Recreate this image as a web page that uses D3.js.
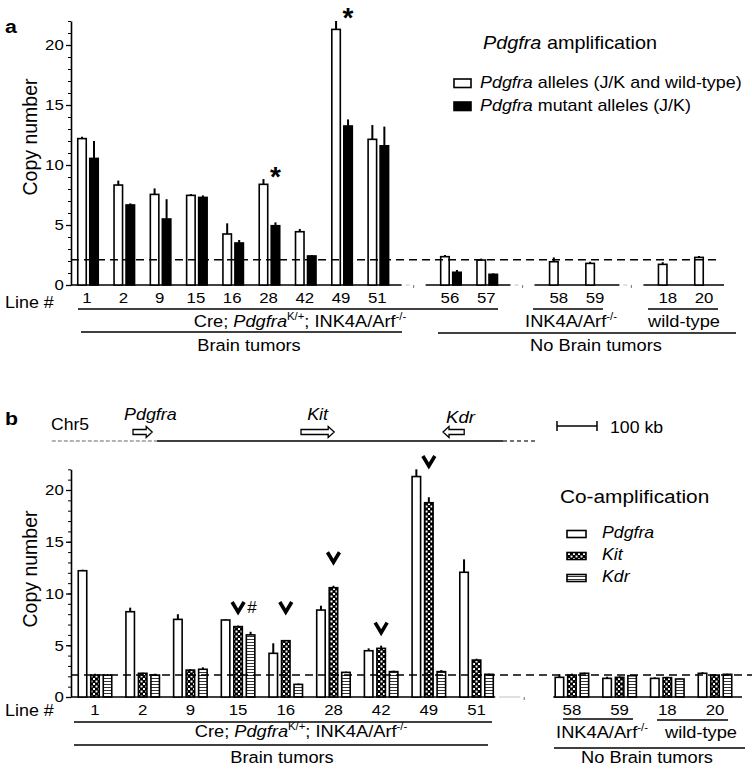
<!DOCTYPE html>
<html><head><meta charset="utf-8">
<script src="https://cdn.jsdelivr.net/npm/d3@7"></script>
<style>
body{margin:0;background:#fff}
svg{display:block}
text{font-family:"Liberation Sans",Arial,Helvetica,sans-serif;fill:#000}
</style>
</head><body>
<svg id="c" width="752" height="770"></svg>
<script>
// ---------------- DATA ----------------
// Panel a
const slotsA = ["1","2","9","15","16","28","42","49","51","_g1","56","57","_g2","58","59","_g3","18","20"];
const linesA = ["1","2","9","15","16","28","42","49","51","56","57","58","59","18","20"];
const allelesAll    = [12.2, 8.33, 7.55, 7.47, 4.25, 8.39, 4.44, 21.3, 12.14, 2.36, 2.08, 1.94, 1.8, 1.72, 2.3];
const allelesAllErr = [12.35, 8.7, 8.05, 7.58, 5.14, 8.83, 4.67, 22.0, 13.33, 2.5, 2.2, 2.3, 1.94, 1.9, 2.42];
const allelesMut    = [10.55, 6.67, 5.5, 7.3, 3.5, 4.94, 2.42, 13.25, 11.6, 1.06, 0.89, null, null, null, null];
const allelesMutErr = [12.0, 6.8, 7.15, 7.47, 3.75, 5.22, 2.5, 13.8, 13.2, 1.25, 0.97, null, null, null, null];
const asterisks = [{line:"28", value:9.6}, {line:"49", value:22.8}];
const refLineA = 2.1;

// Panel b
const slotsB = ["1","2","9","15","16","28","42","49","51","_g","58","59","18","20"];
const linesB = ["1","2","9","15","16","28","42","49","51","58","59","18","20"];
const coPdgfra    = [12.2, 8.24, 7.5, 7.44, 4.22, 8.4, 4.47, 21.3, 12.05, 1.9, 1.8, 1.8, 2.29];
const coPdgfraErr = [12.3, 8.63, 8.0, 7.5, 5.19, 8.82, 4.7, 22.0, 13.3, 2.19, 1.96, 1.9, 2.4];
const coKit       = [2.12, 2.29, 2.6, 6.8, 5.44, 10.56, 4.7, 18.77, 3.57, 2.12, 1.9, 1.87, 2.12];
const coKitErr    = [2.25, 2.35, 2.7, 6.9, 5.5, 10.75, 4.96, 19.3, 3.7, 2.25, 2.0, 1.95, 2.2];
const coKdr       = [2.12, 2.12, 2.68, 6.0, 1.22, 2.38, 2.45, 2.45, 2.19, 2.29, 2.06, 1.74, 2.19];
const coKdrErr    = [2.2, 2.25, 2.87, 6.3, 1.3, 2.45, 2.55, 2.6, 2.25, 2.35, 2.15, 1.8, 2.25];
const chevrons = [{line:"15", value:8.7}, {line:"16", value:8.7}, {line:"28", value:13.5}, {line:"42", value:6.7}, {line:"49", value:22.8}];
const hashes = [{line:"15", value:8.7}];
const refLineB = 2.12;

// Chromosome map (kb, relative)
const genes = [
  {name:"Pdgfra", start:0, end:48, dir:1},
  {name:"Kit", start:420, end:503, dir:1},
  {name:"Kdr", start:775, end:828, dir:-1}
];
const chrSolid = [60, 925];
const chrDashL = [-203, 60];
const chrDashR = [925, 1010];
const scaleBarKb = [1060, 1160];

const yTicks = [0, 5, 10, 15, 20];

// ---------------- DRAWING ----------------
const svg = d3.select("#c");
const SX = 1.12;

function rich(g, x, y, parts, o = {}) {
  const size = o.size || 16;
  const t = g.append("text")
    .attr("transform", `translate(${x},${y}) scale(${o.sx ?? SX},1)`)
    .attr("text-anchor", o.anchor || "start")
    .style("font-size", size + "px")
    .style("font-weight", o.weight || "normal");
  if (typeof parts === "string") parts = [{t: parts}];
  let cur = 0;
  parts.forEach(p => {
    const ts = t.append("tspan").text(p.t);
    if (p.i) ts.style("font-style", "italic");
    if (p.sup) {
      const k = -size * 0.42;
      ts.style("font-size", (size * 0.62) + "px");
      if (k - cur) ts.attr("dy", k - cur);
      cur = k;
    } else if (cur) {
      ts.attr("dy", -cur); cur = 0;
    }
  });
  return t;
}

const defs = svg.append("defs");
const pk = defs.append("pattern").attr("id", "kitPat").attr("patternUnits", "userSpaceOnUse")
  .attr("width", 5).attr("height", 5);
pk.append("rect").attr("width", 5).attr("height", 5).attr("fill", "#000");
pk.append("rect").attr("x", 0.5).attr("y", 0.5).attr("width", 2).attr("height", 2).attr("fill", "#fff");
pk.append("rect").attr("x", 3).attr("y", 3).attr("width", 2).attr("height", 2).attr("fill", "#fff");
const pd = defs.append("pattern").attr("id", "kdrPat").attr("patternUnits", "userSpaceOnUse")
  .attr("width", 4).attr("height", 3);
pd.append("rect").attr("width", 4).attr("height", 3).attr("fill", "#fff");
pd.append("rect").attr("y", 0).attr("width", 4).attr("height", 1).attr("fill", "#333");

const AX = 71;

function yAxis(g, y) {
  const minor = g.append("g").attr("transform", `translate(${AX},0)`)
    .call(d3.axisLeft(y).tickValues(d3.range(0, 23)).tickSize(3).tickFormat("").tickSizeOuter(0));
  minor.select(".domain").attr("stroke-width", 1.6);
  minor.selectAll(".tick line").attr("stroke-width", 1);
  const major = g.append("g").attr("transform", `translate(${AX},0)`)
    .call(d3.axisLeft(y).tickValues(yTicks).tickSize(5).tickPadding(1.5).tickSizeOuter(0));
  major.select(".domain").remove();
  major.selectAll(".tick line").attr("stroke-width", 1.3);
  major.selectAll(".tick text")
    .style("font-size", "15px")
    .style("font-family", '"Liberation Sans",Arial,sans-serif')
    .attr("transform", `scale(${SX},1)`);
}

function baseline(g, y0, x1, x2, gapXs, hw) {
  let start = x1;
  const segs = [];
  gapXs.forEach(c => { segs.push([start, c - hw]); start = c + hw; });
  segs.push([start, x2]);
  segs.forEach(s => g.append("line").attr("x1", s[0]).attr("x2", s[1]).attr("y1", y0).attr("y2", y0)
    .attr("stroke", "#000").attr("stroke-width", 1.6));
  gapXs.forEach(c => {
    g.append("line").attr("x1", c - hw + 4).attr("x2", c - 4).attr("y1", y0).attr("y2", y0)
      .attr("stroke", "#ccc").attr("stroke-width", 1.2);
    g.append("line").attr("x1", c).attr("x2", c).attr("y1", y0).attr("y2", y0 + 3)
      .attr("stroke", "#888").attr("stroke-width", 1.2);
  });
}

function copyLabel(g, cy) {
  g.append("text").attr("transform", `translate(37,${cy}) rotate(-90)`)
    .attr("text-anchor", "middle").style("font-size", "19.5px").text("Copy number");
}

function bars(g, x, y, lines, vals, errs, off, w, fill) {
  const d = lines.map((l, i) => ({l, v: vals[i], e: errs[i]})).filter(o => o.v != null);
  g.selectAll(null).data(d).join("rect")
    .attr("x", o => x(o.l) + off - w / 2).attr("width", w)
    .attr("y", o => y(o.v)).attr("height", o => y(0) - y(o.v))
    .attr("fill", fill).attr("stroke", "#000").attr("stroke-width", 1.6);
  g.selectAll(null).data(d.filter(o => o.e != null && o.e > o.v)).join("line")
    .attr("x1", o => x(o.l) + off).attr("x2", o => x(o.l) + off)
    .attr("y1", o => y(o.v)).attr("y2", o => y(o.e))
    .attr("stroke", "#000").attr("stroke-width", 2);
}

// ===== Panel a =====
const gA = svg.append("g");
const xA = d3.scalePoint().domain(slotsA).range([87, 704]);
const yA = d3.scaleLinear().domain([0, 22]).range([285, 21]);

rich(gA, 5, 33, "a", {size: 19, weight: "bold"});
yAxis(gA, yA);
copyLabel(gA, 137);
baseline(gA, yA(0), AX, 724, ["_g1", "_g2", "_g3"].map(s => xA(s)), 12);

bars(gA, xA, yA, linesA, allelesAll, allelesAllErr, -5, 8.5, "#fff");
bars(gA, xA, yA, linesA, allelesMut, allelesMutErr, 7, 8.5, "#000");

gA.append("line").attr("x1", AX).attr("x2", 720).attr("y1", yA(refLineA)).attr("y2", yA(refLineA))
  .attr("stroke", "#000").attr("stroke-width", 1.5).attr("stroke-dasharray", "8,5");

asterisks.forEach(a => {
  rich(gA, xA(a.line) + 7, yA(a.value) + 16, "*", {size: 28, weight: "bold", anchor: "middle", sx: 1});
});

// line labels
rich(gA, 5, 308, "Line #", {size: 16});
linesA.forEach(l => rich(gA, xA(l), 303, l, {size: 15, anchor: "middle"}));

function hline(g, x1, x2, y) {
  g.append("line").attr("x1", x1).attr("x2", x2).attr("y1", y).attr("y2", y).attr("stroke", "#000").attr("stroke-width", 1.5);
}
const creParts = [{t: "Cre; "}, {t: "Pdgfra", i: true}, {t: "K/+", sup: true}, {t: "; INK4A/Arf"}, {t: "-/-", sup: true}];
const inkParts = [{t: "INK4A/Arf"}, {t: "-/-", sup: true}];

hline(gA, 78, 498, 309);
rich(gA, 300, 327, creParts, {size: 16.3, anchor: "middle"});
hline(gA, 81, 402, 332);
rich(gA, 249, 351, "Brain tumors", {size: 16.3, anchor: "middle"});
hline(gA, 533, 603, 309);
rich(gA, 571, 327, inkParts, {size: 16.3, anchor: "middle"});
hline(gA, 648, 718, 309);
rich(gA, 684, 327, "wild-type", {size: 16.3, anchor: "middle"});
hline(gA, 438, 736, 333);
rich(gA, 596, 351, "No Brain tumors", {size: 16.3, anchor: "middle"});

// legend a
rich(gA, 483, 49, [{t: "Pdgfra", i: true}, {t: " amplification"}], {size: 17.7});
gA.append("rect").attr("x", 454).attr("y", 79).attr("width", 17).attr("height", 8.5)
  .attr("fill", "#fff").attr("stroke", "#000").attr("stroke-width", 1.6);
gA.append("rect").attr("x", 454).attr("y", 102).attr("width", 17).attr("height", 8.5)
  .attr("fill", "#000").attr("stroke", "#000").attr("stroke-width", 1.6);
rich(gA, 480, 88, [{t: "Pdgfra", i: true}, {t: " alleles (J/K and wild-type)"}], {size: 16});
rich(gA, 480, 111, [{t: "Pdgfra", i: true}, {t: " mutant alleles (J/K)"}], {size: 16});

// ===== Panel b =====
const gB = svg.append("g");
const xB = d3.scalePoint().domain(slotsB).range([95, 715]);
const yB = d3.scaleLinear().domain([0, 22]).range([697, 469.3]);

rich(gB, 5, 425, "b", {size: 19, weight: "bold"});

// chromosome map
const kb = d3.scaleLinear().domain([0, 100]).range([133, 173]);
const chrY = 441;
gB.append("line").attr("x1", kb(chrSolid[0])).attr("x2", kb(chrSolid[1])).attr("y1", chrY).attr("y2", chrY)
  .attr("stroke", "#000").attr("stroke-width", 1.5);
gB.append("line").attr("x1", kb(chrDashL[0])).attr("x2", kb(chrDashL[1])).attr("y1", chrY).attr("y2", chrY)
  .attr("stroke", "#999").attr("stroke-width", 1.5).attr("stroke-dasharray", "4,2");
gB.append("line").attr("x1", kb(chrDashR[0])).attr("x2", kb(chrDashR[1])).attr("y1", chrY).attr("y2", chrY)
  .attr("stroke", "#444").attr("stroke-width", 1.5).attr("stroke-dasharray", "4,3");
rich(gB, 51, 430, "Chr5", {size: 15.7});
const ay = 432;
genes.forEach(gn => {
  const a = kb(gn.start), b = kb(gn.end), h = 6;
  let p;
  if (gn.dir > 0) p = `M${a},${ay-2.5}L${b-h},${ay-2.5}L${b-h},${ay-5.5}L${b},${ay}L${b-h},${ay+5.5}L${b-h},${ay+2.5}L${a},${ay+2.5}Z`;
  else p = `M${b},${ay-2.5}L${a+h},${ay-2.5}L${a+h},${ay-5.5}L${a},${ay}L${a+h},${ay+5.5}L${a+h},${ay+2.5}L${b},${ay+2.5}Z`;
  gB.append("path").attr("d", p).attr("fill", "#fff").attr("stroke", "#000").attr("stroke-width", 1.3);
});
rich(gB, kb(genes[0].start) - 9, 420, [{t: "Pdgfra", i: true}], {size: 16});
rich(gB, (kb(genes[1].start) + kb(genes[1].end)) / 2, 420, [{t: "Kit", i: true}], {size: 16, anchor: "middle"});
rich(gB, kb(genes[2].start) + 3, 423, [{t: "Kdr", i: true}], {size: 16.6});
const sb1 = kb(scaleBarKb[0]), sb2 = kb(scaleBarKb[1]);
hline(gB, sb1, sb2, 426);
gB.append("line").attr("x1", sb1).attr("x2", sb1).attr("y1", 421).attr("y2", 431).attr("stroke", "#000").attr("stroke-width", 1.5);
gB.append("line").attr("x1", sb2).attr("x2", sb2).attr("y1", 421).attr("y2", 431).attr("stroke", "#000").attr("stroke-width", 1.5);
rich(gB, 610, 433, "100 kb", {size: 15.8});

yAxis(gB, yB);
copyLabel(gB, 569);
baseline(gB, yB(0), AX, 742, [xB("_g")], 29);

bars(gB, xB, yB, linesB, coPdgfra, coPdgfraErr, -12.5, 8.5, "#fff");
bars(gB, xB, yB, linesB, coKit, coKitErr, 0, 8.5, "url(#kitPat)");
bars(gB, xB, yB, linesB, coKdr, coKdrErr, 12.5, 8.5, "url(#kdrPat)");

gB.append("line").attr("x1", AX).attr("x2", 752).attr("y1", yB(refLineB)).attr("y2", yB(refLineB))
  .attr("stroke", "#000").attr("stroke-width", 1.5).attr("stroke-dasharray", "8,5");

chevrons.forEach(c => {
  const cx = xB(c.line), cy = yB(c.value);
  gB.append("path").attr("d", `M${cx-6},${cy-5}L${cx},${cy+5}L${cx+6},${cy-5}`)
    .attr("fill", "none").attr("stroke", "#000").attr("stroke-width", 3.6).attr("stroke-linejoin", "miter");
});
hashes.forEach(h => {
  rich(gB, xB(h.line) + 14, yB(h.value) + 6, "#", {size: 17, anchor: "middle", sx: 1});
});

rich(gB, 5, 716, "Line #", {size: 16});
linesB.forEach(l => rich(gB, xB(l), 715, l, {size: 15, anchor: "middle"}));

hline(gB, 74, 492, 722);
rich(gB, 301, 737, creParts, {size: 16.3, anchor: "middle"});
hline(gB, 74, 488, 745);
rich(gB, 282, 763, "Brain tumors", {size: 16.3, anchor: "middle"});
hline(gB, 563, 633, 719);
rich(gB, 602, 738, inkParts, {size: 16.3, anchor: "middle"});
hline(gB, 657, 728, 720);
rich(gB, 701, 738, "wild-type", {size: 16.3, anchor: "middle"});
hline(gB, 554, 745, 748);
rich(gB, 647, 763, "No Brain tumors", {size: 16.3, anchor: "middle"});

// legend b
rich(gB, 560, 503, "Co-amplification", {size: 18.6});
const legB = [{t: "Pdgfra", f: "#fff", y: 538}, {t: "Kit", f: "url(#kitPat)", y: 560}, {t: "Kdr", f: "url(#kdrPat)", y: 582}];
legB.forEach(o => {
  gB.append("rect").attr("x", 567).attr("y", o.y - 7.5).attr("width", 19).attr("height", 7)
    .attr("fill", o.f).attr("stroke", "#000").attr("stroke-width", 1.6);
  rich(gB, 602, o.y, [{t: o.t, i: true}], {size: 15.8});
});
</script>
</body></html>
